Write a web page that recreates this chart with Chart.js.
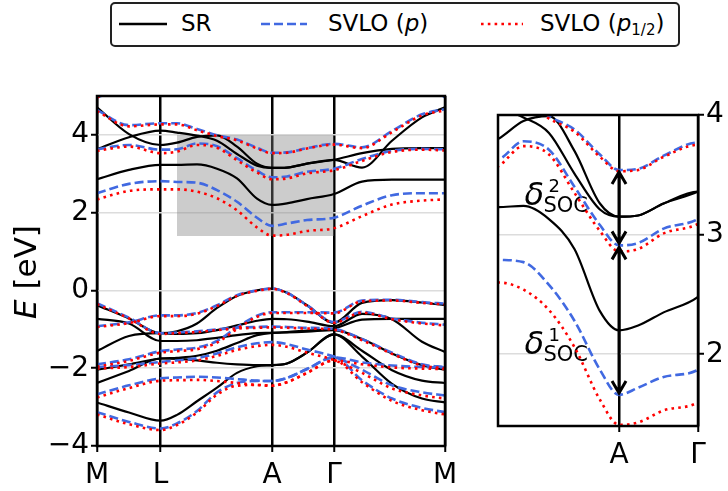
<!DOCTYPE html>
<html>
<head>
<meta charset="utf-8">
<script src="https://cdn.jsdelivr.net/npm/chart.js@4/dist/chart.umd.min.js"></script>
<style>
  body { margin: 0; background: #fff; width: 728px; height: 491px; overflow: hidden; position: relative; font-family: "DejaVu Sans", sans-serif; }
  #bands { position: absolute; left: 0; top: 0; }
  #zoom { position: absolute; left: 480px; top: 0; }
  #legend { position: absolute; left: 110px; top: 2px; width: 566px; height: 41px; border: 2px solid #222; border-radius: 5px; background: #fff; }
  #legend .key { position: absolute; top: 14px; width: 50px; height: 12px; }
  #legend .lab { position: absolute; top: 5px; font-size: 23px; line-height: 28px; color: #000; white-space: nowrap; }
  #legend sub { font-size: 15px; vertical-align: -4px; }
</style>
</head>
<body>
<canvas id="bands" width="480" height="491"></canvas>
<canvas id="zoom" width="248" height="491"></canvas>
<div id="legend">
  <svg class="key" style="left:7px"><line x1="0" y1="6" x2="48" y2="6" stroke="#000" stroke-width="2.5"/></svg>
  <span class="lab" style="left:69px">SR</span>
  <svg class="key" style="left:149px"><line x1="0" y1="6" x2="46" y2="6" stroke="#4169e1" stroke-width="2.6" stroke-dasharray="9 4"/></svg>
  <span class="lab" style="left:216px">SVLO (<i>p</i>)</span>
  <svg class="key" style="left:369px"><line x1="0" y1="6" x2="42" y2="6" stroke="#ff0000" stroke-width="2.6" stroke-dasharray="2.6 4.2"/></svg>
  <span class="lab" style="left:428px">SVLO (<i>p</i><sub>1/2</sub>)</span>
</div>
<script>
// k-path positions (M - L - A - Gamma - M) where the band energies are sampled
const kpath = [0, 0.32, 0.635, 0.8, 1.0, 1.2, 1.4, 1.6, 1.75, 1.9, 2.1, 2.37, 2.65, 2.95, 3.25, 3.48];
const kTicks = [0, 0.635, 1.75, 2.37, 3.48];
const kLabels = ['M', 'L', 'A', 'Γ', 'M'];
const eTicks = [-4, -2, 0, 2, 4];

// zoom window around A (also the grey box on the main panel)
const zoomK = [0.8, 2.37];
const zoomE = [1.4, 4.0];
const zoomKTicks = [1.75, 2.37];
const zoomKLabels = ['A', 'Γ'];
const zoomETicks = [2, 3, 4];

// scalar-relativistic bands (eV)
const srBands = [
  [2.86, 3.10, 3.23, 3.23, 3.24, 3.13, 2.88, 2.36, 2.20, 2.24, 2.35, 2.48, 2.80, 2.85, 2.85, 2.85],
  [4.71, 4.02, 3.74, 3.80, 3.95, 3.99, 3.70, 3.26, 3.15, 3.16, 3.26, 3.36, 3.16, 3.85, 4.45, 4.71],
  [3.63, 3.94, 4.11, 4.06, 3.98, 3.85, 3.51, 3.21, 3.15, 3.16, 3.26, 3.36, 3.53, 3.64, 3.66, 3.66],
  [-0.38, -0.72, -1.10, -1.05, -0.85, -0.45, -0.14, 0.00, 0.05, -0.06, -0.38, -0.83, -0.32, -0.25, -0.31, -0.38],
  [-1.56, -1.17, -1.10, -1.12, -1.10, -1.02, -0.90, -0.78, -0.73, -0.74, -0.80, -0.92, -0.60, -0.74, -1.32, -1.58],
  [-0.73, -0.85, -1.30, -1.30, -1.28, -1.22, -1.15, -1.10, -1.09, -1.07, -1.03, -0.98, -0.75, -0.73, -0.73, -0.73],
  [-2.04, -1.90, -1.75, -1.73, -1.68, -1.55, -1.35, -1.15, -1.09, -1.08, -1.06, -1.02, -1.25, -1.62, -1.92, -2.04],
  [-2.38, -2.07, -1.75, -1.76, -1.80, -1.86, -1.90, -1.92, -1.92, -1.88, -1.60, -1.13, -1.55, -2.05, -2.32, -2.38],
  [-2.88, -3.14, -3.35, -3.20, -2.85, -2.50, -2.12, -1.95, -1.92, -1.88, -1.60, -1.13, -1.70, -2.40, -2.78, -2.88]
];

// SVLO bands with p orbitals
const pBands = [
  [4.96, 5.30, 5.80, 5.80, 5.80, 5.80, 5.80, 5.80, 5.80, 5.80, 5.80, 5.80, 5.80, 5.80, 5.45, 4.96],
  [4.64, 4.25, 4.30, 4.30, 4.15, 3.99, 3.88, 3.67, 3.54, 3.55, 3.66, 3.77, 3.68, 4.10, 4.53, 4.66],
  [3.63, 3.74, 3.62, 3.63, 3.78, 3.71, 3.40, 3.08, 2.91, 2.93, 3.05, 3.13, 3.38, 3.59, 3.64, 3.63],
  [2.50, 2.74, 2.81, 2.79, 2.77, 2.58, 2.28, 1.87, 1.66, 1.72, 1.81, 1.87, 2.18, 2.45, 2.50, 2.50],
  [-0.33, -0.70, -1.10, -1.08, -1.05, -1.00, -0.96, -0.94, -0.93, -0.94, -0.96, -0.99, -1.25, -1.60, -1.90, -1.97],
  [-0.92, -0.82, -0.64, -0.64, -0.58, -0.38, -0.12, 0.00, 0.05, -0.06, -0.38, -0.81, -0.55, -0.72, -0.83, -0.88],
  [-1.90, -1.77, -1.56, -1.52, -1.47, -1.30, -0.95, -0.65, -0.56, -0.56, -0.56, -0.57, -0.26, -0.24, -0.30, -0.34],
  [-1.97, -1.92, -1.84, -1.80, -1.74, -1.62, -1.46, -1.36, -1.33, -1.38, -1.52, -1.70, -2.04, -2.44, -2.62, -2.70],
  [-2.67, -2.44, -2.26, -2.24, -2.22, -2.24, -2.28, -2.32, -2.33, -2.25, -2.02, -1.72, -1.85, -1.93, -1.97, -1.98],
  [-3.13, -3.38, -3.55, -3.42, -3.10, -2.62, -2.38, -2.33, -2.33, -2.25, -2.02, -1.72, -2.31, -2.78, -3.02, -3.13]
];

// SVLO bands with p1/2 orbitals
const halfBands = [
  [4.96, 5.30, 5.80, 5.80, 5.80, 5.80, 5.80, 5.80, 5.80, 5.80, 5.80, 5.80, 5.80, 5.80, 5.45, 4.96],
  [4.61, 4.22, 4.27, 4.27, 4.12, 3.97, 3.86, 3.65, 3.53, 3.54, 3.65, 3.75, 3.66, 4.07, 4.50, 4.63],
  [3.59, 3.70, 3.53, 3.57, 3.74, 3.67, 3.35, 3.03, 2.86, 2.88, 3.01, 3.09, 3.33, 3.56, 3.62, 3.60],
  [2.34, 2.56, 2.60, 2.60, 2.54, 2.37, 2.06, 1.62, 1.41, 1.43, 1.53, 1.60, 1.91, 2.21, 2.31, 2.34],
  [-0.35, -0.72, -1.12, -1.10, -1.07, -1.02, -0.98, -0.96, -0.95, -0.96, -0.98, -1.01, -1.28, -1.63, -1.93, -2.00],
  [-0.94, -0.84, -0.66, -0.66, -0.60, -0.40, -0.14, -0.01, 0.04, -0.07, -0.40, -0.83, -0.57, -0.74, -0.85, -0.90],
  [-1.96, -1.81, -1.60, -1.56, -1.51, -1.34, -0.99, -0.68, -0.58, -0.58, -0.58, -0.59, -0.28, -0.26, -0.32, -0.36],
  [-2.01, -1.97, -1.88, -1.85, -1.80, -1.68, -1.53, -1.43, -1.40, -1.45, -1.60, -1.79, -2.12, -2.52, -2.70, -2.78],
  [-2.75, -2.51, -2.32, -2.31, -2.30, -2.33, -2.38, -2.43, -2.45, -2.36, -2.12, -1.80, -1.90, -1.98, -2.01, -2.02],
  [-3.19, -3.44, -3.59, -3.46, -3.14, -2.68, -2.45, -2.43, -2.45, -2.36, -2.12, -1.80, -2.36, -2.84, -3.08, -3.19]
];

// SOC splittings at A: [lower band, upper band] indices into pBands
const socArrows = [[2, 1], [3, 2]];
const socLabels = [{ k: 1.008, e: 3.25, sup: '2' }, { k: 1.008, e: 2.0, sup: '1' }];
const iA = kpath.indexOf(1.75);

const FONT = '"DejaVu Sans", sans-serif';
const tickFont = { family: FONT, size: 28 };

function bandSets(bands, color, width, dash, order) {
  return bands.map(b => ({
    data: kpath.map((k, i) => ({ x: k, y: b[i] })),
    borderColor: color,
    borderWidth: width,
    borderDash: dash,
    pointRadius: 0,
    fill: false,
    order: order,
    cubicInterpolationMode: 'monotone',
    capBezierPoints: false
  }));
}

function allSets() {
  return [
    ...bandSets(srBands, '#000000', 2.2, [], 2),
    ...bandSets(pBands, '#4169e1', 2.6, [9, 4], 1),
    ...bandSets(halfBands, '#ff0000', 2.6, [2.6, 4.2], 0)
  ];
}

const framePlugin = {
  id: 'frame',
  afterDraw(chart) {
    const { ctx, chartArea: a } = chart;
    ctx.save();
    ctx.strokeStyle = '#000';
    ctx.lineWidth = 2.5;
    ctx.strokeRect(a.left, a.top, a.right - a.left, a.bottom - a.top);
    ctx.restore();
  }
};

const shadePlugin = {
  id: 'shade',
  beforeDatasetsDraw(chart) {
    const { ctx, scales: { x, y } } = chart;
    const x0 = x.getPixelForValue(zoomK[0]), x1 = x.getPixelForValue(zoomK[1]);
    const y0 = y.getPixelForValue(zoomE[1]), y1 = y.getPixelForValue(zoomE[0]);
    ctx.save();
    ctx.fillStyle = 'rgba(128,128,128,0.4)';
    ctx.fillRect(x0, y0, x1 - x0, y1 - y0);
    ctx.restore();
  }
};

const yTitlePlugin = {
  id: 'yTitle',
  afterDraw(chart) {
    const { ctx } = chart;
    const a = chart.chartArea;
    ctx.save();
    ctx.translate(28, (a.top + a.bottom) / 2 + 1);
    ctx.rotate(-Math.PI / 2);
    ctx.fillStyle = '#000';
    ctx.textBaseline = 'middle';
    ctx.font = 'italic 31px ' + FONT;
    const w1 = ctx.measureText('E').width;
    ctx.font = '31px ' + FONT;
    const w2 = ctx.measureText(' [eV]').width;
    const x0 = -(w1 + w2) / 2;
    ctx.font = 'italic 31px ' + FONT;
    ctx.fillText('E', x0, 0);
    ctx.font = '31px ' + FONT;
    ctx.fillText(' [eV]', x0 + w1, 0);
    ctx.restore();
  }
};

const socPlugin = {
  id: 'soc',
  beforeDatasetsDraw(chart) {
    const { ctx, scales: { x, y } } = chart;
    ctx.save();
    ctx.fillStyle = '#000';
    ctx.textBaseline = 'alphabetic';
    socLabels.forEach(l => {
      const px = x.getPixelForValue(l.k), py = y.getPixelForValue(l.e);
      ctx.font = 'italic 32px ' + FONT;
      ctx.fillText('δ', px, py);
      ctx.font = '18px ' + FONT;
      ctx.fillText(l.sup, px + 24, py - 13);
      ctx.font = '21px ' + FONT;
      ctx.fillText('SOC', px + 19, py + 7);
    });
    ctx.restore();
  },
  afterDatasetsDraw(chart) {
    const { ctx, scales: { x, y } } = chart;
    const px = x.getPixelForValue(kpath[iA]);
    ctx.save();
    ctx.strokeStyle = '#000';
    ctx.lineWidth = 3;
    socArrows.forEach(([lo, hi]) => {
      const yLo = y.getPixelForValue(pBands[lo][iA]) - 2;
      const yHi = y.getPixelForValue(pBands[hi][iA]) + 2;
      ctx.beginPath();
      ctx.moveTo(px, yLo);
      ctx.lineTo(px, yHi);
      ctx.moveTo(px - 7, yHi + 12);
      ctx.lineTo(px, yHi);
      ctx.lineTo(px + 7, yHi + 12);
      ctx.moveTo(px - 7, yLo - 12);
      ctx.lineTo(px, yLo);
      ctx.lineTo(px + 7, yLo - 12);
      ctx.stroke();
    });
    ctx.restore();
  }
};

function axisX(min, max, ticks, labels, height) {
  return {
    type: 'linear', min: min, max: max,
    afterBuildTicks: s => { s.ticks = ticks.map(v => ({ value: v })); },
    afterFit: s => { s.height = height; },
    ticks: { autoSkip: false, maxRotation: 0, font: tickFont, color: '#000', padding: 7,
             callback: (v, i) => labels[i] },
    grid: { color: '#000', lineWidth: 2.5, tickColor: '#000', tickLength: 6, tickWidth: 2 },
    border: { display: false }
  };
}

function axisY(min, max, ticks, pos, width) {
  return {
    type: 'linear', position: pos, min: min, max: max,
    afterBuildTicks: s => { s.ticks = ticks.map(v => ({ value: v })); },
    afterFit: s => { s.width = width; },
    ticks: { font: tickFont, color: '#000', padding: 2,
             callback: v => v < 0 ? '\u2212' + (-v) : String(v) },
    grid: { color: '#dcdcdc', lineWidth: 1.5, tickColor: '#000', tickLength: 6, tickWidth: 2 },
    border: { display: false }
  };
}

const baseOpts = {
  responsive: false,
  animation: false,
  devicePixelRatio: 1,
  plugins: { legend: { display: false }, tooltip: { enabled: false } },
  elements: { point: { radius: 0 } }
};

new Chart(document.getElementById('bands'), {
  type: 'line',
  data: { datasets: allSets() },
  options: {
    ...baseOpts,
    layout: { padding: { top: 96, right: 35, left: 0, bottom: 0 } },
    scales: {
      x: axisX(0, 3.48, kTicks, kLabels, 45),
      y: axisY(-4, 5, eTicks, 'left', 97)
    }
  },
  plugins: [shadePlugin, framePlugin, yTitlePlugin]
});

new Chart(document.getElementById('zoom'), {
  type: 'line',
  data: { datasets: allSets() },
  options: {
    ...baseOpts,
    layout: { padding: { top: 115, right: 0, left: 18, bottom: 0 } },
    scales: {
      x: axisX(zoomK[0], zoomK[1], zoomKTicks, zoomKLabels, 65),
      y: axisY(zoomE[0], zoomE[1], zoomETicks, 'right', 30)
    }
  },
  plugins: [socPlugin, framePlugin]
});
</script>
</body>
</html>
